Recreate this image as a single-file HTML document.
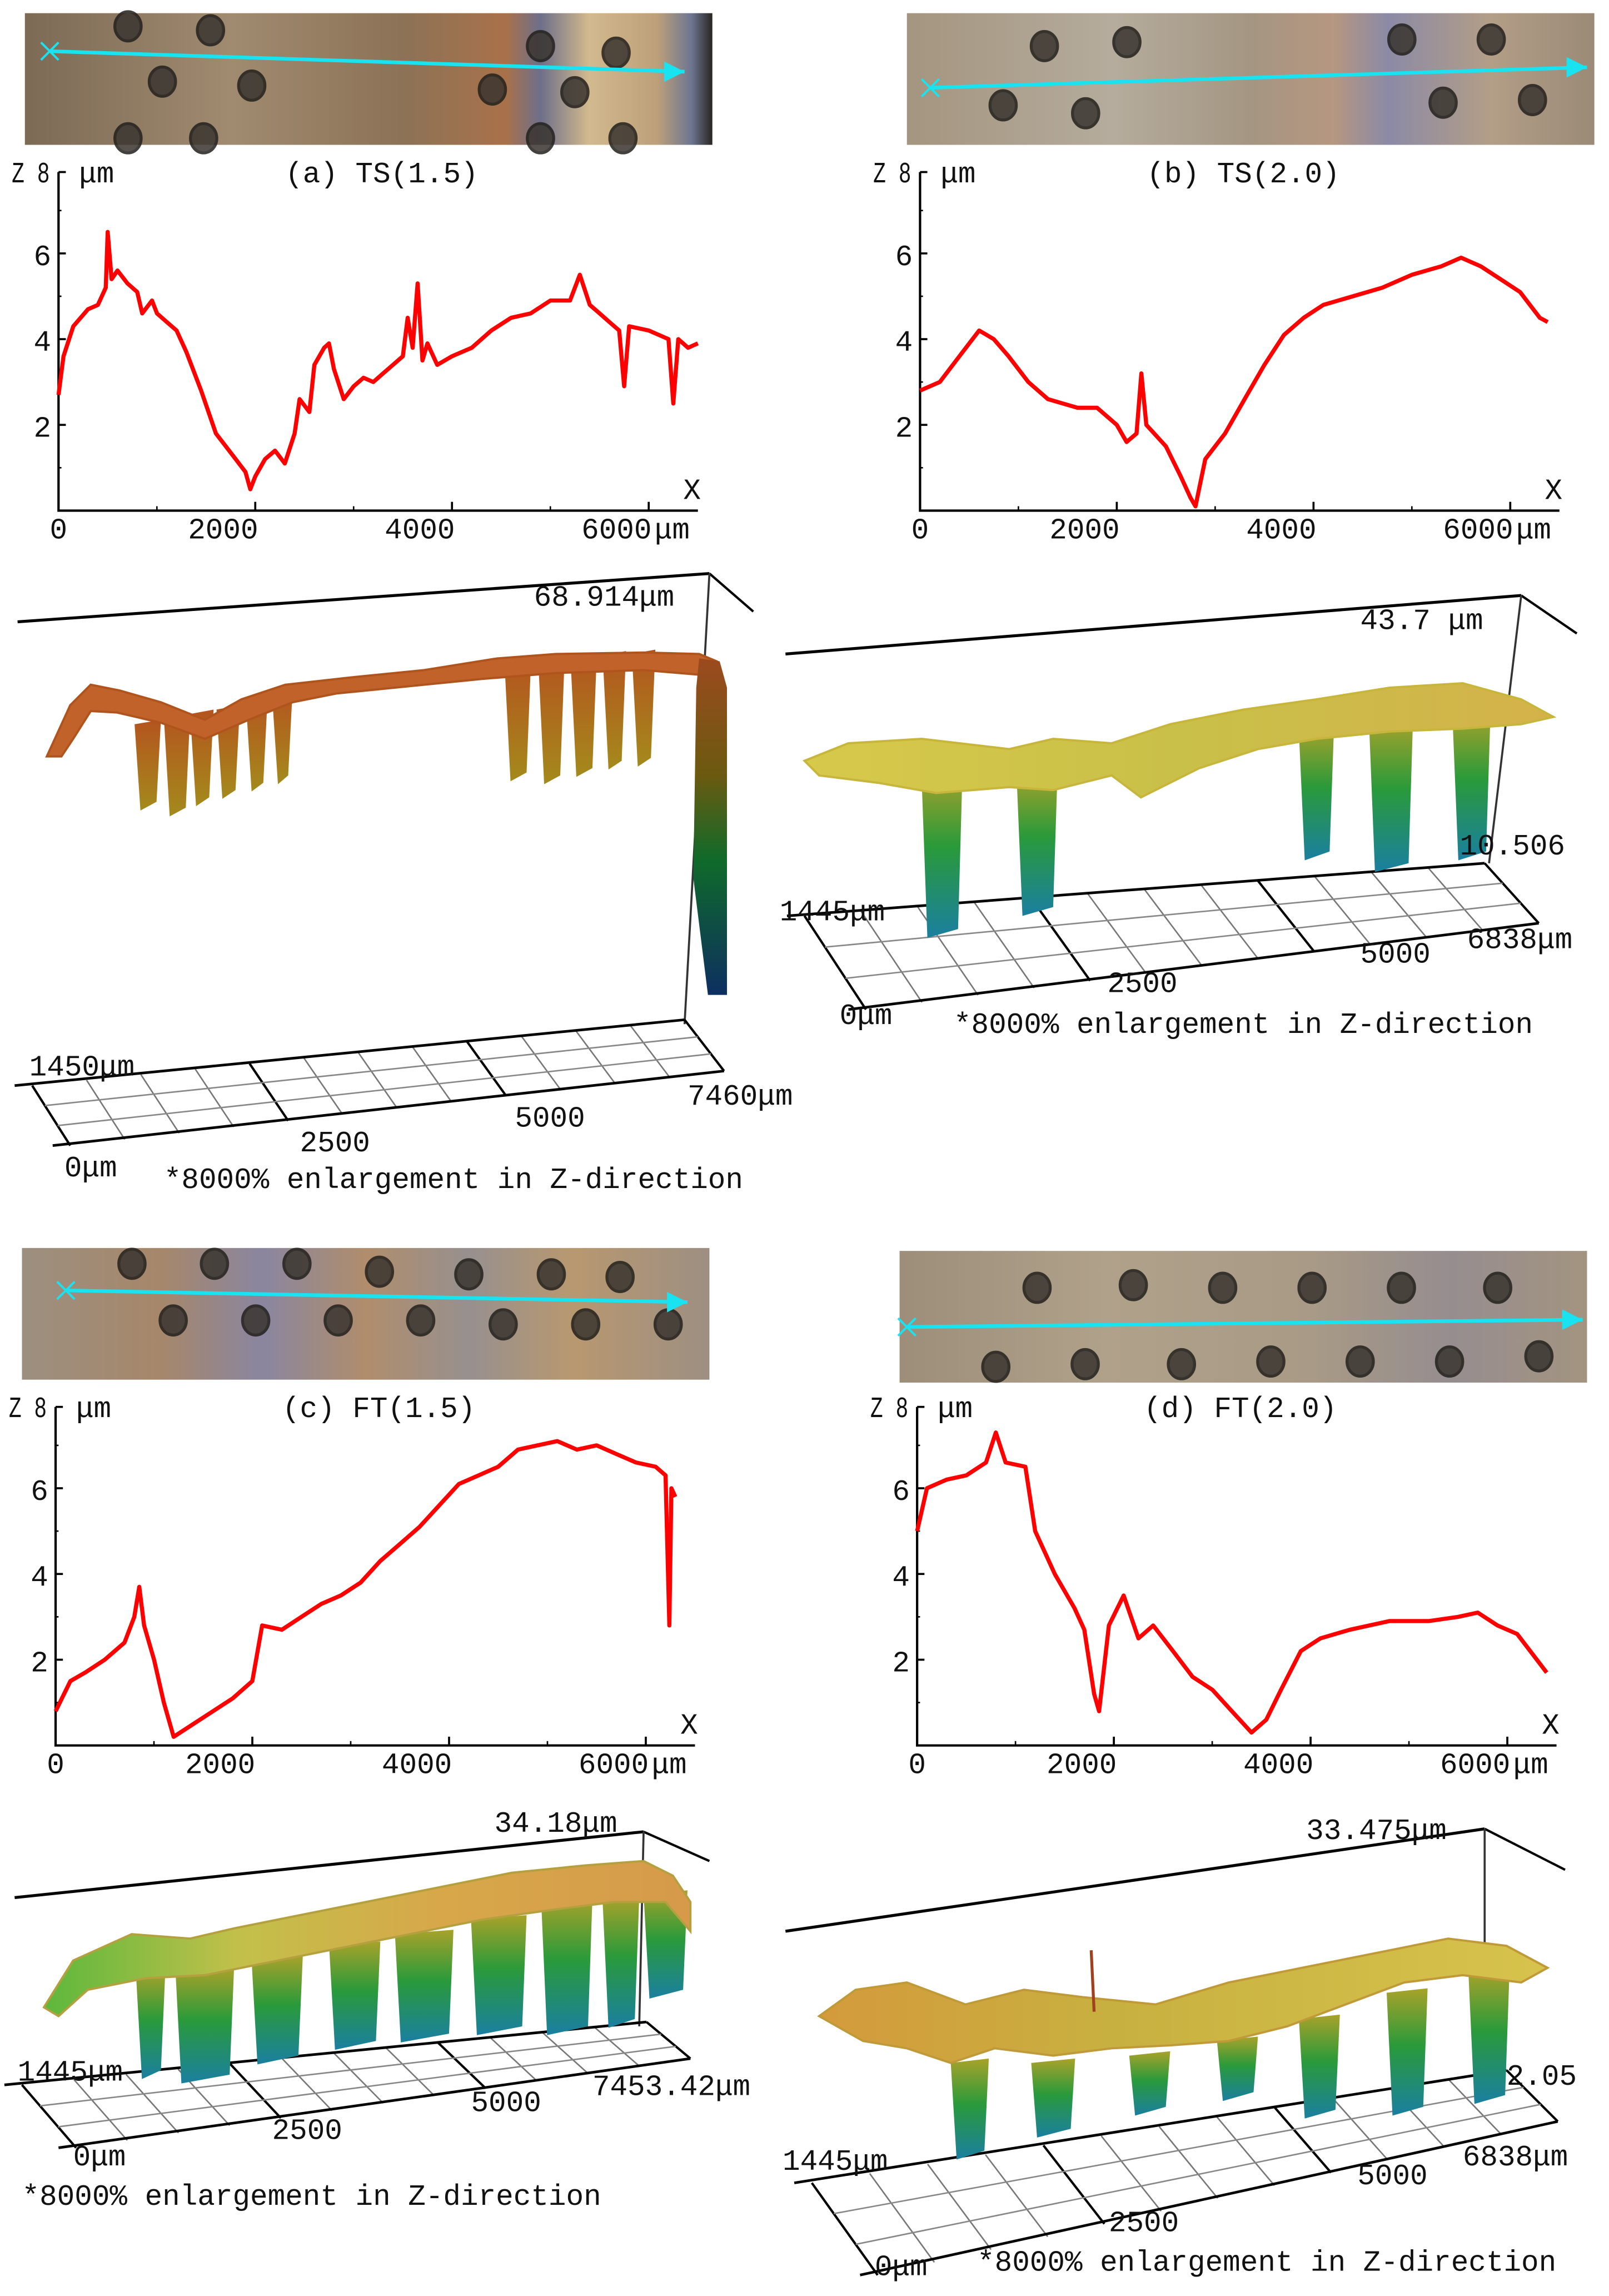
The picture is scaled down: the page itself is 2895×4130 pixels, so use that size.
<!DOCTYPE html>
<html><head><meta charset="utf-8">
<style>
html,body{margin:0;padding:0;background:#fff;}
svg{display:block;}
text{font-family:"Liberation Mono","DejaVu Sans Mono",monospace;fill:#111;}
</style></head>
<body>
<svg id="fig" width="2895" height="4130" viewBox="0 0 1100 1569.3" xmlns="http://www.w3.org/2000/svg">
<defs>
<linearGradient id="photoA" x1="0" x2="1" y1="0" y2="0">
<stop offset="0" stop-color="#7d6a55"/><stop offset="0.3" stop-color="#a08b70"/><stop offset="0.55" stop-color="#8c7256"/><stop offset="0.7" stop-color="#a9714a"/><stop offset="0.75" stop-color="#6d6f8a"/><stop offset="0.82" stop-color="#d2b98e"/><stop offset="0.92" stop-color="#bda07a"/><stop offset="0.97" stop-color="#6c7590"/><stop offset="1" stop-color="#2a2520"/></linearGradient>
<linearGradient id="photoB" x1="0" x2="1" y1="0" y2="0">
<stop offset="0" stop-color="#a4957f"/><stop offset="0.3" stop-color="#b5ac9d"/><stop offset="0.5" stop-color="#a49682"/><stop offset="0.62" stop-color="#b69780"/><stop offset="0.7" stop-color="#8b8aa6"/><stop offset="0.85" stop-color="#b39e87"/><stop offset="1" stop-color="#9a8a77"/></linearGradient>
<linearGradient id="photoC" x1="0" x2="1" y1="0" y2="0">
<stop offset="0" stop-color="#9c8f80"/><stop offset="0.2" stop-color="#a6876a"/><stop offset="0.35" stop-color="#8a86a0"/><stop offset="0.5" stop-color="#b08d6c"/><stop offset="0.65" stop-color="#97908f"/><stop offset="0.8" stop-color="#b89870"/><stop offset="1" stop-color="#9d8f82"/></linearGradient>
<linearGradient id="photoD" x1="0" x2="1" y1="0" y2="0">
<stop offset="0" stop-color="#9d8e7a"/><stop offset="0.3" stop-color="#b0a18a"/><stop offset="0.6" stop-color="#a89a86"/><stop offset="0.8" stop-color="#968d8f"/><stop offset="1" stop-color="#a39480"/></linearGradient>
<linearGradient id="orangeDrip" x1="0" x2="0" y1="0" y2="1"><stop offset="0" stop-color="#b4541e"/><stop offset="1" stop-color="#a48a1c"/></linearGradient>
<linearGradient id="edgeA" x1="0" x2="0" y1="0" y2="1"><stop offset="0" stop-color="#9c4a1e"/><stop offset="0.35" stop-color="#6a5a10"/><stop offset="0.6" stop-color="#0f6a2a"/><stop offset="1" stop-color="#0d2f60"/></linearGradient>
<linearGradient id="greenDrip" x1="0" x2="0" y1="0" y2="1"><stop offset="0" stop-color="#a8a22a"/><stop offset="0.45" stop-color="#2a9a3a"/><stop offset="1" stop-color="#1a7fa0"/></linearGradient>
<linearGradient id="surfB" x1="0" x2="1"><stop offset="0" stop-color="#d7c94a"/><stop offset="0.5" stop-color="#c9c049"/><stop offset="1" stop-color="#d4b24a"/></linearGradient>
<linearGradient id="surfC" x1="0" x2="1"><stop offset="0" stop-color="#5cb83c"/><stop offset="0.3" stop-color="#c2c04a"/><stop offset="0.6" stop-color="#d7a84a"/><stop offset="1" stop-color="#d69a4a"/></linearGradient>
<linearGradient id="surfD" x1="0" x2="1"><stop offset="0" stop-color="#d49a3c"/><stop offset="0.4" stop-color="#c8b040"/><stop offset="1" stop-color="#d6c34c"/></linearGradient>
</defs>
<g id="root"></g>
</svg>
<script>
// ---- profile data (x in um, z in um) ----
const xA=[0,50,150,300,400,480,500,540,600,700,800,850,950,1000,1100,1200,1300,1450,1600,1800,1900,1950,2000,2100,2200,2300,2400,2450,2550,2600,2700,2750,2800,2900,3000,3100,3200,3300,3400,3500,3550,3600,3650,3700,3750,3850,4000,4200,4400,4600,4800,5000,5200,5300,5400,5500,5600,5700,5750,5800,6000,6200,6250,6300,6400,6500];
const zA=[2.7,3.6,4.3,4.7,4.8,5.2,6.5,5.4,5.6,5.3,5.1,4.6,4.9,4.6,4.4,4.2,3.7,2.8,1.8,1.2,0.9,0.5,0.8,1.2,1.4,1.1,1.8,2.6,2.3,3.4,3.8,3.9,3.3,2.6,2.9,3.1,3.0,3.2,3.4,3.6,4.5,3.8,5.3,3.5,3.9,3.4,3.6,3.8,4.2,4.5,4.6,4.9,4.9,5.5,4.8,4.6,4.4,4.2,2.9,4.3,4.2,4.0,2.5,4.0,3.8,3.9];
const xB=[0,200,400,600,750,900,1100,1300,1600,1800,2000,2100,2200,2250,2300,2500,2650,2750,2800,2900,3100,3300,3500,3700,3900,4100,4400,4700,5000,5300,5500,5700,5900,6100,6300,6380];
const zB=[2.8,3.0,3.6,4.2,4.0,3.6,3.0,2.6,2.4,2.4,2.0,1.6,1.8,3.2,2.0,1.5,0.8,0.3,0.1,1.2,1.8,2.6,3.4,4.1,4.5,4.8,5.0,5.2,5.5,5.7,5.9,5.7,5.4,5.1,4.5,4.4];
const xC=[0,150,300,500,700,800,850,900,1000,1100,1200,1400,1600,1800,2000,2100,2300,2500,2700,2900,3100,3300,3500,3700,3900,4100,4300,4500,4700,4900,5100,5300,5500,5700,5900,6100,6200,6240,6260,6300];
const zC=[0.8,1.5,1.7,2.0,2.4,3.0,3.7,2.8,2.0,1.0,0.2,0.5,0.8,1.1,1.5,2.8,2.7,3.0,3.3,3.5,3.8,4.3,4.7,5.1,5.6,6.1,6.3,6.5,6.9,7.0,7.1,6.9,7.0,6.8,6.6,6.5,6.3,2.8,6.0,5.8];
const xD=[0,100,300,500,700,800,900,1100,1200,1400,1600,1700,1800,1850,1950,2100,2250,2400,2600,2800,3000,3200,3400,3550,3700,3900,4100,4400,4800,5200,5500,5700,5900,6100,6300,6400];
const zD=[5.0,6.0,6.2,6.3,6.6,7.3,6.6,6.5,5.0,4.0,3.2,2.7,1.2,0.8,2.8,3.5,2.5,2.8,2.2,1.6,1.3,0.8,0.3,0.6,1.3,2.2,2.5,2.7,2.9,2.9,3.0,3.1,2.8,2.6,2.0,1.7];
const xTicks=[0,2000,4000,6000];
const zTicks=[2,4,6,8];

const NS='http://www.w3.org/2000/svg';
const root=document.getElementById('root');
function mk(tag,attrs,parent){const e=document.createElementNS(NS,tag);for(const k in attrs)e.setAttribute(k,attrs[k]);(parent||root).appendChild(e);return e;}
function txt(x,y,s,size,parent,anchor){const t=mk('text',{x:x,y:y,'font-size':size||18,'text-anchor':anchor||'start'},parent);t.textContent=s;return t;}

function photo(x,y,w,h,fill,holes,arrow,name){
  const g=mk('g',{});
  
  
  mk('rect',{x:x,y:y,width:w,height:h,fill:fill},g);
  holes.forEach(c=>{mk('ellipse',{cx:x+c[0]*w,cy:y+c[1]*h,rx:9,ry:10,fill:'#3a3530',stroke:'#22201c','stroke-width':2,opacity:0.85},g);});
  mk('line',{x1:arrow[0],y1:arrow[1],x2:arrow[2],y2:arrow[3],stroke:'#19e3f0','stroke-width':2.5},g);
  mk('path',{d:`M${arrow[2]-14},${arrow[3]-7} L${arrow[2]},${arrow[3]} L${arrow[2]-14},${arrow[3]+7}Z`,fill:'#19e3f0'},g);
  mk('path',{d:`M${arrow[0]-6},${arrow[1]-6}L${arrow[0]+6},${arrow[1]+6}M${arrow[0]-6},${arrow[1]+6}L${arrow[0]+6},${arrow[1]-6}`,stroke:'#19e3f0','stroke-width':1.5},g);
}
photo(17,9,470,90,'url(#photoA)',[[0.15,0.1],[0.27,0.13],[0.2,0.52],[0.33,0.55],[0.15,0.95],[0.26,0.95],[0.75,0.25],[0.86,0.3],[0.68,0.58],[0.8,0.6],[0.75,0.95],[0.87,0.95]],[34,35,468,49],'photo-strip-a');
photo(620,9,470,90,'url(#photoB)',[[0.2,0.25],[0.32,0.22],[0.14,0.7],[0.26,0.76],[0.72,0.2],[0.85,0.2],[0.78,0.68],[0.91,0.66]],[636,60,1085,46],'photo-strip-b');
photo(15,853,470,90,'url(#photoC)',[[0.16,0.12],[0.28,0.12],[0.4,0.12],[0.52,0.18],[0.65,0.2],[0.77,0.2],[0.87,0.22],[0.22,0.55],[0.34,0.55],[0.46,0.55],[0.58,0.55],[0.7,0.58],[0.82,0.58],[0.94,0.58]],[45,882,470,890],'photo-strip-c');
photo(615,855,470,90,'url(#photoD)',[[0.2,0.28],[0.34,0.26],[0.47,0.28],[0.6,0.28],[0.73,0.28],[0.87,0.28],[0.14,0.88],[0.27,0.86],[0.41,0.86],[0.54,0.84],[0.67,0.84],[0.8,0.84],[0.93,0.8]],[620,907,1082,902],'photo-strip-d');

function profile(ox,oy,xs,zs,title,key){
  const kx=134.5/2000, kz=29.3;
  const X=v=>ox+v*kx, Y=v=>oy-v*kz;
  const g=mk('g',{});
  
  
  mk('path',{d:`M${ox},${Y(8)+3} L${ox},${oy} L${X(6500)},${oy}`,fill:'none',stroke:'#000','stroke-width':1.6},g);
  mk('line',{x1:ox,y1:Y(8)+3,x2:ox+5,y2:Y(8)+3,stroke:'#000','stroke-width':1.4},g);
  zTicks.forEach(t=>{ if(t<8){mk('line',{x1:ox,y1:Y(t),x2:ox+5,y2:Y(t),stroke:'#000','stroke-width':1.4},g);
    const l=txt(ox-5,Y(t)+8,String(t),20,g,'end');
    
    }
    mk('line',{x1:ox,y1:Y(t-1),x2:ox+2,y2:Y(t-1),stroke:'#000','stroke-width':1},g);
  });
  xTicks.forEach(t=>{ if(t>0) mk('line',{x1:X(t),y1:oy,x2:X(t),y2:oy-6,stroke:'#000','stroke-width':1.4},g);
    if(t+1000<6500) mk('line',{x1:X(t+1000),y1:oy,x2:X(t+1000),y2:oy-3,stroke:'#000','stroke-width':1},g);
    const l=txt(t===0?X(t):X(t)+2,oy+19,String(t),20,g,t===0?'middle':'end');
    
    
  });
  txt(X(6000)+4,oy+19,'μm',20,g);
  const zl=txt(ox-32,Y(8)+10,'Z 8',20,g);
  zl.setAttribute('textLength','26');
  zl.setAttribute('lengthAdjust','spacingAndGlyphs');
  txt(ox+14,Y(8)+10,'μm',20,g);
  txt(X(6500)-10,oy-8,'X',20,g);
  const tt=txt(ox+155,Y(8)+10,title,20,g);
  
  
  let d='';
  xs.forEach((v,i)=>{d+=(i?'L':'M')+X(v).toFixed(1)+','+Y(zs[i]).toFixed(1);});
  const p=mk('path',{d:d,fill:'none',stroke:'#ff0000','stroke-width':2.8,'stroke-linejoin':'round'},g);
  
  
}
profile(40,349,xA,zA,'(a) TS(1.5)','a');
profile(629,349,xB,zB,'(b) TS(2.0)','b');
profile(38,1193,xC,zC,'(c) FT(1.5)','c');
profile(627,1193,xD,zD,'(d) FT(2.0)','d');

function grid3d(BL,BR,FL,FR,g){
  const lerp=(a,b,t)=>[a[0]+(b[0]-a[0])*t,a[1]+(b[1]-a[1])*t];
  for(let i=0;i<=12;i++){const a=lerp(BL,BR,i/12),b=lerp(FL,FR,i/12);
    mk('line',{x1:a[0],y1:a[1],x2:b[0],y2:b[1],stroke:(i%4==0)?'#000':'#777','stroke-width':(i%4==0)?1.6:1},g);}
  for(let j=0;j<=3;j++){const a=lerp(BL,FL,j/3),b=lerp(BR,FR,j/3);
    mk('line',{x1:a[0]-(j==0||j==3?12:0),y1:a[1],x2:b[0],y2:b[1],stroke:(j==0||j==3)?'#000':'#888','stroke-width':(j==0||j==3)?1.8:1},g);}
}
function view3d(o){
  const g=mk('g',{});
  
  
  mk('line',{x1:o.top[0],y1:o.top[1],x2:o.top[2],y2:o.top[3],stroke:'#000','stroke-width':2},g);
  mk('line',{x1:o.top[2],y1:o.top[3],x2:o.top[4],y2:o.top[5],stroke:'#000','stroke-width':1.6},g);
  mk('line',{x1:o.top[2],y1:o.top[3],x2:o.vx,y2:o.vy,stroke:'#333','stroke-width':1.4},g);
  grid3d(o.BL,o.BR,o.FL,o.FR,g);
  o.drips.forEach(d=>{mk('path',{d:`M${d[0]},${d[1]} L${d[0]+d[2]},${d[1]-3} L${d[0]+d[2]-3},${d[3]} L${d[0]+4},${d[3]+6}Z`,fill:o.dripFill},g);});
  mk('path',{d:o.surf,fill:o.surfFill,stroke:o.surfStroke,'stroke-width':1.5},g);
  if(o.extra) mk('path',{d:o.extra,fill:'url(#edgeA)'},g);
  o.labels.forEach(l=>{const t=txt(l[0],l[1],l[2],20,g);  });
}
view3d({name:'surface-3d-a',top:[12,425,485,392,515,418],vx:468,vy:700,BL:[22,742],BR:[468,697],FL:[48,783],FR:[495,732],
  drips:[[92,495,18,548],[112,490,18,552],[130,488,16,545],[148,485,16,540],[168,478,15,535],[186,475,14,530],[345,455,18,528],[368,452,18,530],[390,450,18,525],[412,448,16,520],[432,447,16,518]],
  dripFill:'url(#orangeDrip)',surf:'M32,517 L48,482 L62,468 L82,472 L110,480 L140,492 L165,478 L195,468 L240,463 L290,458 L340,450 L380,447 L440,446 L478,447 L490,452 L488,462 L440,458 L380,460 L330,464 L280,469 L230,474 L200,480 L170,492 L140,505 L110,494 L80,487 L62,486 L50,505 L42,517Z',
  surfFill:'#c1622a',surfStroke:'#b0541e',extra:'M478,450 L492,452 L497,470 L497,680 L484,680 L474,600 L476,470Z',
  labels:[[365,414,'68.914μm'],[20,735,'1450μm'],[470,755,'7460μm'],[352,770,'5000'],[205,787,'2500'],[44,804,'0μm'],[112,812,'*8000% enlargement in Z-direction']]});
view3d({name:'surface-3d-b',top:[537,447,1040,407,1078,433],vx:1018,vy:590,BL:[550,626],BR:[1015,590],FL:[592,690],FR:[1052,631],
  drips:[[630,530,28,635],[695,530,28,620],[888,500,24,582],[936,495,30,590],[993,490,26,582]],
  dripFill:'url(#greenDrip)',surf:'M550,520 L580,508 L630,505 L690,512 L720,505 L760,508 L800,495 L850,485 L900,478 L950,470 L1000,467 L1040,478 L1062,490 L1040,495 L1000,498 L950,500 L900,505 L860,512 L820,525 L780,545 L760,530 L720,540 L690,538 L640,542 L600,535 L560,530Z',
  surfFill:'url(#surfB)',surfStroke:'#c8b53c',
  labels:[[930,430,'43.7 μm'],[533,629,'1445μm'],[998,584,'10.506'],[1003,648,'6838μm'],[930,658,'5000'],[757,678,'2500'],[574,700,'0μm'],[652,706,'*8000% enlargement in Z-direction']]});
view3d({name:'surface-3d-c',top:[10,1297,440,1252,485,1272],vx:437,vy:1385,BL:[15,1425],BR:[442,1382],FL:[52,1468],FR:[472,1407],
  drips:[[93,1350,20,1415],[120,1348,40,1418],[172,1340,35,1405],[225,1330,35,1395],[270,1322,40,1390],[322,1312,38,1385],[370,1300,35,1385],[412,1300,25,1380],[440,1295,30,1360]],
  dripFill:'url(#greenDrip)',surf:'M30,1372 L50,1340 L90,1322 L130,1325 L160,1318 L200,1310 L250,1300 L300,1290 L350,1280 L400,1275 L440,1272 L460,1282 L472,1300 L472,1320 L455,1300 L420,1300 L380,1305 L330,1312 L280,1322 L230,1332 L180,1342 L140,1350 L100,1352 L60,1360 L40,1378Z',
  surfFill:'url(#surfC)',surfStroke:'#b5a040',
  labels:[[338,1252,'34.18μm'],[12,1422,'1445μm'],[405,1432,'7453.42μm'],[322,1443,'5000'],[186,1462,'2500'],[50,1480,'0μm'],[15,1507,'*8000% enlargement in Z-direction']]});
view3d({name:'surface-3d-d',top:[537,1320,1015,1250,1070,1278],vx:1015,vy:1345,BL:[555,1492],BR:[1030,1415],FL:[600,1555],FR:[1065,1450],
  drips:[[650,1410,26,1470],[705,1410,30,1455],[772,1405,28,1440],[832,1395,28,1430],[888,1380,28,1442],[948,1362,28,1440],[1004,1350,28,1432]],
  dripFill:'url(#greenDrip)',surf:'M560,1378 L585,1360 L620,1355 L660,1370 L700,1360 L740,1365 L790,1370 L840,1355 L890,1345 L940,1335 L990,1325 L1030,1330 L1058,1345 L1040,1355 L1000,1350 L960,1355 L920,1370 L880,1385 L840,1395 L800,1398 L760,1400 L720,1405 L680,1400 L650,1410 L620,1400 L590,1395Z',
  surfFill:'url(#surfD)',surfStroke:'#c09a38',
  labels:[[893,1257,'33.475μm'],[535,1483,'1445μm'],[1030,1425,'2.05'],[1000,1480,'6838μm'],[928,1493,'5000'],[758,1525,'2500'],[598,1555,'0μm'],[668,1552,'*8000% enlargement in Z-direction']]});
const spike=mk('line',{x1:746,y1:1333,x2:748,y2:1375,stroke:'#a0401e','stroke-width':2});


</script>
</body></html>
